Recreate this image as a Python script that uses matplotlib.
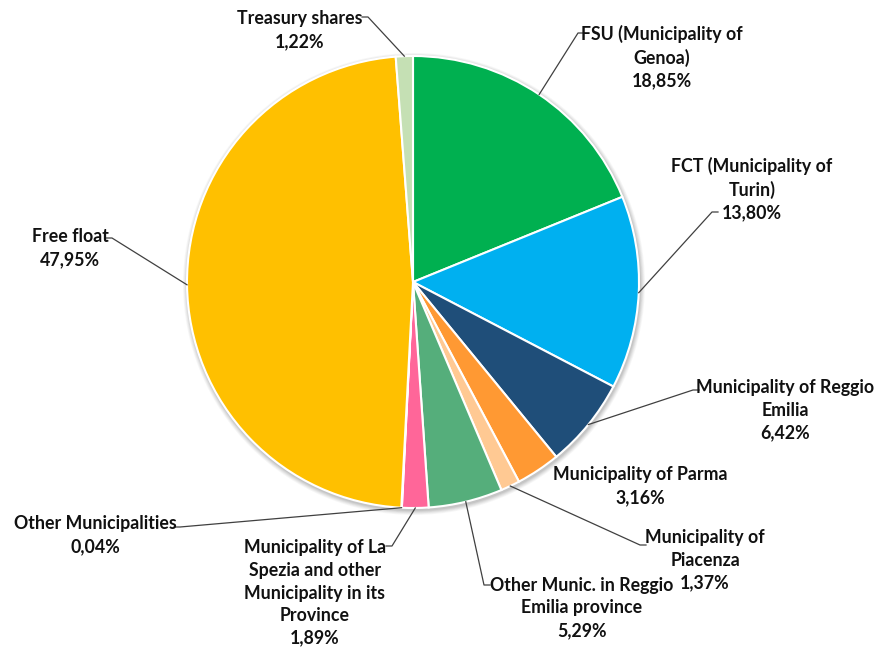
import numpy as np
import matplotlib.pyplot as plt

"""Shareholding structure pie chart"""

labels = ["FSU (Municipality of\nGenoa)", "FCT (Municipality of\nTurin)",
          "Municipality of Reggio\nEmilia", "Municipality of Parma",
          "Municipality of\nPiacenza", "Other Munic. in Reggio\nEmilia province",
          "Municipality of La\nSpezia and other\nMunicipality in its\nProvince",
          "Other Municipalities", "Free float", "Treasury shares"]
shares = [18.85, 13.80, 6.42, 3.16, 1.37, 5.29, 1.89, 0.04, 47.95, 1.22]
colors = ["#00B050", "#00B0F0", "#1F4E79", "#FF9933", "#FFC993",
          "#55AE7B", "#FF6699", "#BFBFBF", "#FFC000", "#C5E0B4"]

# label layout in pixel coords (x, y from top), elbow point (x, y from top) or None
text_pos = [(662, 57), (752, 189), (785, 410), (640, 486), (705, 560),
            (582, 608), (315, 593), (95, 535), (70, 248), (300, 30)]
elbows = [(578, 33), (712, 212), (693, 390), None, (640, 545),
          (484, 585), (392, 546), (180, 527), (112, 238), (368, 17)]

W, H = 875, 653
CX, CY, R = 413, H - 282, 226

fig = plt.figure(figsize=(W / 100, H / 100), dpi=100)
ax = fig.add_axes([0, 0, 1, 1])
ax.set_xlim(0, W)
ax.set_ylim(0, H)
ax.axis('off')

# soft shadow
for k, a in zip(range(6), [0.05, 0.05, 0.04, 0.04, 0.03, 0.03]):
    ax.add_patch(plt.Circle((CX + 1, CY - 2), R + 1 + k * 0.8, color='k', alpha=a, lw=0))

wedges, _ = ax.pie(shares, colors=colors, startangle=90, counterclock=False,
                   center=(CX, CY), radius=R,
                   wedgeprops=dict(edgecolor='white', linewidth=1.5))
ax.set_aspect('equal')
ax.set_xlim(0, W)
ax.set_ylim(0, H)

font = ['Lato', 'DejaVu Sans']
for w, lab, val, tp, el in zip(wedges, labels, shares, text_pos, elbows):
    txt = lab + "\n" + ("%.2f%%" % val).replace('.', ',')
    ax.text(tp[0], H - tp[1], txt, ha='center', va='center', fontsize=12.8,
            fontweight='bold', family=font, linespacing=1.4, color='#111111')
    if el is None:
        continue
    mid = np.deg2rad((w.theta1 + w.theta2) / 2)
    px, py = CX + R * np.cos(mid), CY + R * np.sin(mid)
    ex, ey = el[0], H - el[1]
    # short horizontal stub toward the text
    stub = 6 if tp[0] > ex else -6
    ax.plot([px, ex, ex + stub], [py, ey, ey], color='#404040', lw=0.9)

fig.savefig('out.png', dpi=100)
